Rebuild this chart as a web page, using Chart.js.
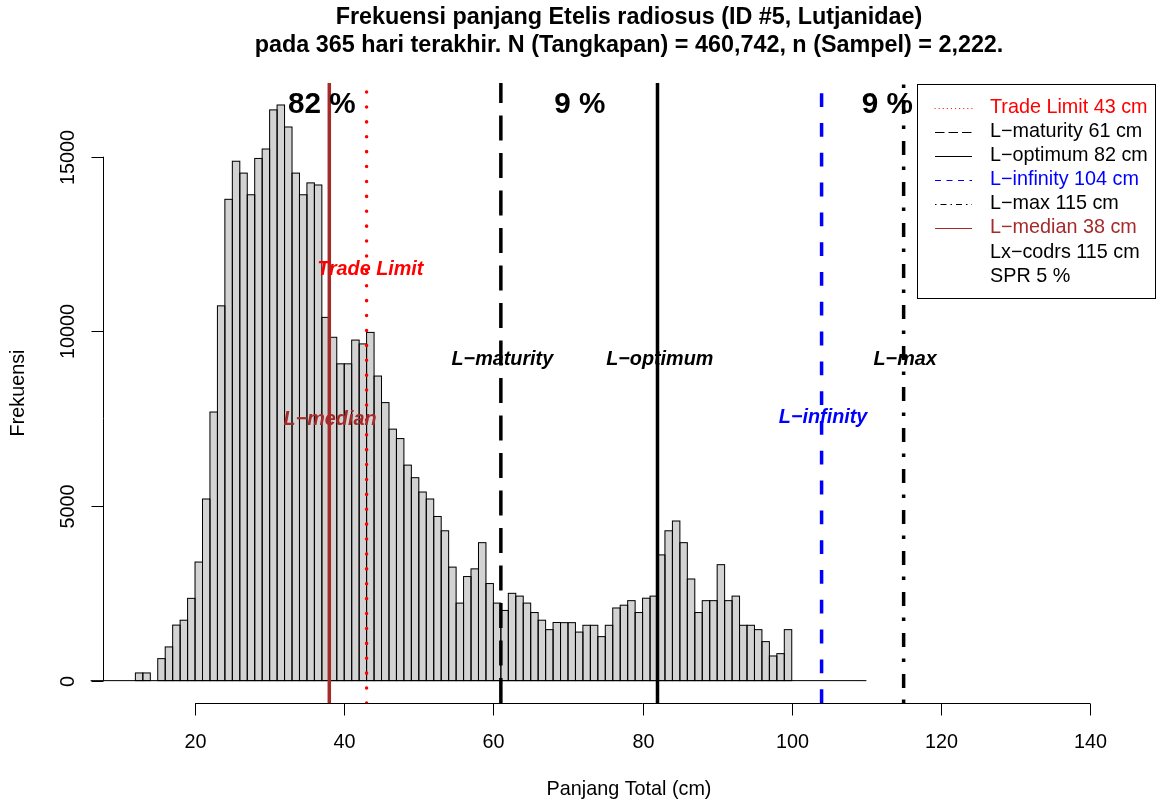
<!DOCTYPE html>
<html><head><meta charset="utf-8">
<script src="https://cdn.jsdelivr.net/npm/chart.js@4.4.1/dist/chart.umd.min.js"></script>
<style>html,body{margin:0;padding:0;background:#fff;overflow:hidden}#wrap{width:1157px;height:803px;position:relative}</style>
</head><body><div id="wrap"><canvas id="c" width="1157" height="803"></canvas></div>
<script>
// ---- data ----
const binStarts = [6,7,8,9,10,11,12,13,14,15,16,17,18,19,20,21,22,23,24,25,26,27,28,29,30,31,32,33,34,35,36,37,38,39,40,41,42,43,44,45,46,47,48,49,50,51,52,53,54,55,56,57,58,59,60,61,62,63,64,65,66,67,68,69,70,71,72,73,74,75,76,77,78,79,80,81,82,83,84,85,86,87,88,89,90,91,92,93,94,95,96,97,98,99,100,101,102,103,104,105,106,107,108,109];
const counts = [0,0,0,0,0,0,220,220,0,630,965,1590,1730,2356,3395,5200,7690,10730,13780,14870,14530,13910,14950,15220,16340,16480,15850,14530,13910,14250,14190,10400,9830,9070,9070,9750,9640,9970,8720,7960,7200,6930,6170,5810,5400,5200,4700,4290,3250,2220,2980,3200,3950,2780,2220,2010,2500,2420,2220,1950,1730,1460,1665,1660,1660,1390,1585,1585,1260,1585,2080,2160,2290,1950,2360,2420,3600,4290,4570,3950,2910,1950,2290,2290,3320,2290,2420,1585,1585,1460,1117,706,773,1460,0,0,0,0,0,0,0,0,0,0];
const binWidth = 1;
const refNames = ['Trade Limit','L\u2212maturity','L\u2212optimum','L\u2212infinity','L\u2212max','L\u2212median'];
const refValues = [43, 61, 82, 104, 115, 38];
const refColors = ['#FF0000','#000000','#000000','#0000FF','#000000','#A52A2A'];
const refLabelPos = [[43.5,11766],[61.2,9190],[82.3,9190],[104.2,7529],[115.2,9190],[38.1,7472]];
const pctLabels = ['82 %','9 %','9 %'];
const pctX = [37.0, 71.6, 112.8];
const legendLabels = ['Trade Limit 43 cm','L\u2212maturity 61 cm','L\u2212optimum 82 cm','L\u2212infinity 104 cm','L\u2212max 115 cm','L\u2212median 38 cm','Lx\u2212codrs 115 cm','SPR 5 %'];
const legendColors = ['#FF0000','#000000','#000000','#0000FF','#000000','#A52A2A','#000000','#000000'];
const xTicks = [20,40,60,80,100,120,140];
const yTicks = [0,5000,10000,15000];
const titleLines = ['Frekuensi panjang Etelis radiosus (ID #5, Lutjanidae)','pada 365 hari terakhir. N (Tangkapan) = 460,742, n (Sampel) = 2,222.'];
const xTitle = 'Panjang Total (cm)';
const yTitle = 'Frekuensi';

// ---- styles ----
const FF = '"Liberation Sans", Arial, Helvetica, sans-serif';
const BASE = 19.8;
const X_MIN = 7.66, X_MAX = 148.7, Y_MIN = -640, Y_MAX = 17110;
const LW = 3.5;
const refDash = [[0.1,14.8],[25,12.5],[],[13.8,16],[3.5,11.5,14,12],[]];
const refCap = ['round','butt','butt','butt','butt','butt'];
const legDash = [[0.1,4],[9.5,4],[],[6,5.5],[1.5,4,6,4],[],null,null];
const legCap = ['round','butt','butt','butt','butt','butt'];

const barData = binStarts.map((b,i)=>({x:b+binWidth/2, y:counts[i]}));
const datasets = [];
refValues.forEach((v,i)=>{
  datasets.push({type:'line', data:[{x:v,y:Y_MIN},{x:v,y:Y_MAX}], borderColor:refColors[i], borderWidth:LW,
    borderDash:refDash[i], borderCapStyle:refCap[i], pointRadius:0, fill:false, tension:0, order:0});
});
datasets.unshift({type:'bar', data:barData, backgroundColor:'#D3D3D3', borderWidth:0,
  barPercentage:1, categoryPercentage:1, order:10});

const plugin = {
  id:'rstyle',
  afterDatasetDraw(chart, args){
    if (args.index !== 0) return;
    const ctx = chart.ctx, meta = args.meta, xs = chart.scales.x, ys = chart.scales.y;
    ctx.save();
    ctx.strokeStyle = '#000'; ctx.lineWidth = 1;
    meta.data.forEach((el,i)=>{
      if (counts[i] <= 0) return;
      const p = el.getProps(['x','y','base','width'], true);
      ctx.strokeRect(p.x - p.width/2, p.y, p.width, p.base - p.y);
    });
    const y0 = ys.getPixelForValue(0);
    ctx.beginPath();
    ctx.moveTo(xs.getPixelForValue(binStarts[0]), y0);
    ctx.lineTo(xs.getPixelForValue(binStarts[binStarts.length-1]+binWidth), y0);
    ctx.stroke();
    ctx.restore();
  },
  afterDraw(chart){
    const ctx = chart.ctx, xs = chart.scales.x, ys = chart.scales.y, ca = chart.chartArea;
    ctx.save();
    ctx.fillStyle = '#000'; ctx.strokeStyle = '#000'; ctx.lineWidth = 1;
    // x axis
    const axY = Math.round(ca.bottom) + 0.5;
    ctx.beginPath();
    ctx.moveTo(xs.getPixelForValue(xTicks[0]), axY);
    ctx.lineTo(xs.getPixelForValue(xTicks[xTicks.length-1]), axY);
    ctx.stroke();
    ctx.font = BASE + 'px ' + FF; ctx.textAlign = 'center'; ctx.textBaseline = 'middle';
    xTicks.forEach(v=>{
      const px = Math.round(xs.getPixelForValue(v)) + 0.5;
      ctx.beginPath(); ctx.moveTo(px, axY); ctx.lineTo(px, axY + 12); ctx.stroke();
      ctx.fillText(String(v), px, 743);
    });
    // y axis
    const axX = Math.round(ca.left) + 0.5;
    ctx.beginPath();
    ctx.moveTo(axX, ys.getPixelForValue(yTicks[0]));
    ctx.lineTo(axX, ys.getPixelForValue(yTicks[yTicks.length-1]));
    ctx.stroke();
    yTicks.forEach(v=>{
      const py = Math.round(ys.getPixelForValue(v)) + 0.5;
      ctx.beginPath(); ctx.moveTo(axX, py); ctx.lineTo(axX - 12, py); ctx.stroke();
      ctx.save(); ctx.translate(69, py); ctx.rotate(-Math.PI/2);
      ctx.fillText(String(v), 0, 0); ctx.restore();
    });
    // axis titles
    const cx = (ca.left + ca.right)/2, cy = (ca.top + ca.bottom)/2;
    ctx.fillText(xTitle, cx, 790);
    ctx.save(); ctx.translate(19, cy); ctx.rotate(-Math.PI/2); ctx.fillText(yTitle, 0, 0); ctx.restore();
    // title
    ctx.font = 'bold ' + (BASE*1.18) + 'px ' + FF;
    ctx.fillText(titleLines[0], cx, 18);
    ctx.fillText(titleLines[1], cx, 46);
    // ref labels
    ctx.font = 'italic bold ' + BASE + 'px ' + FF;
    refNames.forEach((n,i)=>{
      ctx.fillStyle = refColors[i];
      ctx.fillText(n, xs.getPixelForValue(refLabelPos[i][0]), ys.getPixelForValue(refLabelPos[i][1]));
    });
    // percents
    ctx.fillStyle = '#000';
    ctx.font = 'bold ' + (BASE*1.5) + 'px ' + FF;
    pctLabels.forEach((t,i)=>{ ctx.fillText(t, xs.getPixelForValue(pctX[i]), 105); });
    // legend
    const lx = 917.5, ly = 84.5, lw = 1155.5 - 917.5, lh = 298.5 - 84.5;
    ctx.fillStyle = '#fff'; ctx.fillRect(lx, ly, lw, lh);
    ctx.strokeStyle = '#000'; ctx.lineWidth = 1; ctx.setLineDash([]);
    ctx.strokeRect(lx, ly, lw, lh);
    ctx.font = BASE + 'px ' + FF; ctx.textAlign = 'left';
    legendLabels.forEach((t,i)=>{
      const ry = 107.5 + i*24.1;
      if (legDash[i]) {
        ctx.save();
        ctx.strokeStyle = legendColors[i]; ctx.lineWidth = 1.2;
        ctx.setLineDash(legDash[i]); ctx.lineCap = legCap[i];
        ctx.beginPath(); ctx.moveTo(935, Math.round(ry)+0.5); ctx.lineTo(972, Math.round(ry)+0.5); ctx.stroke();
        ctx.restore();
      }
      ctx.fillStyle = legendColors[i];
      ctx.fillText(t, 990, ry);
    });
    ctx.restore();
  }
};

new Chart(document.getElementById('c'), {
  type:'bar',
  data:{datasets},
  options:{
    responsive:false, animation:false, devicePixelRatio:1,
    layout:{padding:{left:103, top:83, right:2, bottom:100}},
    plugins:{legend:{display:false}, title:{display:false}, tooltip:{enabled:false}},
    scales:{
      x:{type:'linear', min:X_MIN, max:X_MAX, offset:false, display:false},
      y:{type:'linear', min:Y_MIN, max:Y_MAX, display:false}
    }
  },
  plugins:[plugin]
});
</script></body></html>
